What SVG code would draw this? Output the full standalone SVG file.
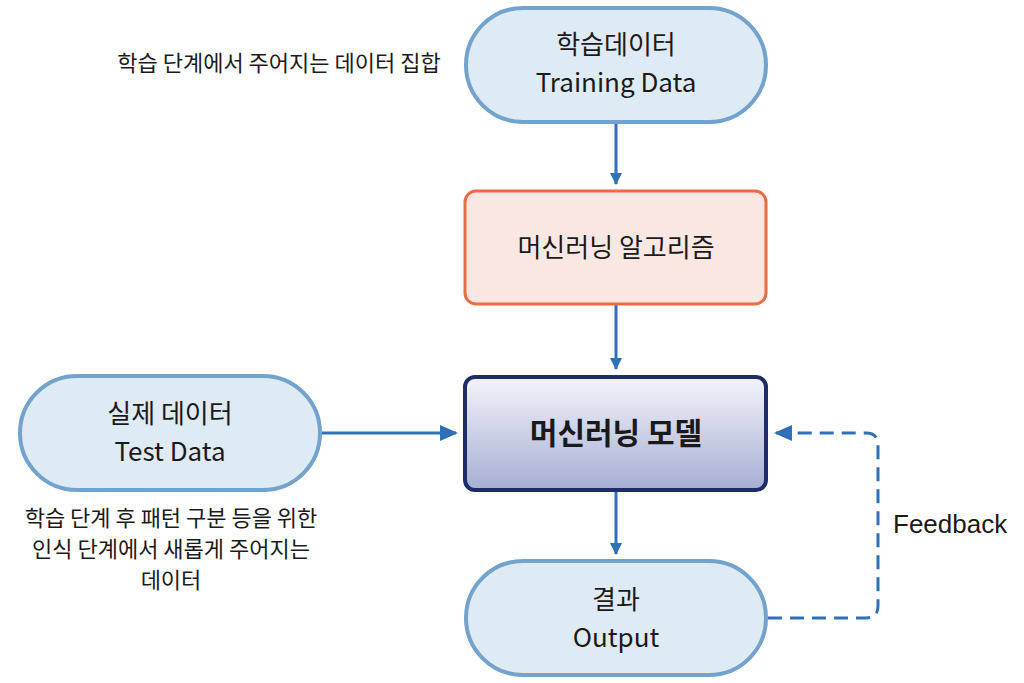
<svg xmlns="http://www.w3.org/2000/svg" width="1024" height="683" viewBox="0 0 1024 683">
<style>
.pill{fill:#deeaf4;stroke:#73a2cd;stroke-width:4}
.t{font-family:"Noto Sans CJK KR","Noto Sans",sans-serif;font-size:26px;fill:#1a1a1a;text-anchor:middle}
.s{font-family:"Noto Sans CJK KR","Noto Sans",sans-serif;font-size:22px;fill:#1a1a1a;text-anchor:middle}
.c{stroke:#2f70b6;stroke-width:3;fill:none}
</style>
<defs>
<marker id="ah" markerWidth="12" markerHeight="12" refX="11" refY="6" orient="auto" markerUnits="userSpaceOnUse" viewBox="0 0 12 12">
<path d="M0,0 L12,6 L0,12 z" fill="#2f70b6"/>
</marker>
<marker id="ahb" markerWidth="18" markerHeight="16" refX="16" refY="8" orient="auto" markerUnits="userSpaceOnUse" viewBox="0 0 18 16">
<path d="M0,0 L18,8 L0,16 z" fill="#2f70b6"/>
</marker>
<linearGradient id="g" x1="0" y1="0" x2="0" y2="1">
<stop offset="0" stop-color="#f3f4fa"/>
<stop offset="1" stop-color="#a6aed4"/>
</linearGradient>
</defs>
<rect width="1024" height="683" fill="#ffffff"/>
<g id="connectors">
<line class="c" x1="616" y1="124" x2="616" y2="184" marker-end="url(#ah)"/>
<line class="c" x1="616" y1="305" x2="616" y2="369" marker-end="url(#ah)"/>
<line class="c" x1="616" y1="492" x2="616" y2="554" marker-end="url(#ah)"/>
<line class="c" x1="322" y1="433" x2="456" y2="433" marker-end="url(#ahb)"/>
<path class="c" d="M768,618 H866 Q878,618 878,606 V445 Q878,433 866,433 H776" stroke-dasharray="14,8" marker-end="url(#ahb)"/>
</g>
<g id="training">
<rect class="pill" x="466" y="8" width="300" height="114" rx="57"/>
<text class="t" x="616" y="54">학습데이터</text>
<text class="t" x="616" y="92">Training Data</text>
</g>
<g id="note-training">
<text class="s" x="279" y="71">학습 단계에서 주어지는 데이터 집합</text>
</g>
<g id="algorithm">
<rect x="465" y="191" width="301" height="113" rx="11" fill="#fbe7e2" stroke="#ec6b45" stroke-width="3"/>
<text class="t" x="616" y="257">머신러닝 알고리즘</text>
</g>
<g id="model">
<rect x="465" y="377" width="301" height="113" rx="10" fill="url(#g)" stroke="#1f2c6c" stroke-width="4"/>
<text class="t" x="616" y="444" style="font-weight:bold;font-size:30px">머신러닝 모델</text>
</g>
<g id="test">
<rect class="pill" x="20" y="376" width="300" height="114" rx="57"/>
<text class="t" x="170" y="423">실제 데이터</text>
<text class="t" x="170" y="461">Test Data</text>
</g>
<g id="note-test">
<text class="s" x="171" y="526">학습 단계 후 패턴 구분 등을 위한</text>
<text class="s" x="171" y="557">인식 단계에서 새롭게 주어지는</text>
<text class="s" x="171" y="588">데이터</text>
</g>
<g id="output">
<rect class="pill" x="466" y="561" width="300" height="114" rx="57"/>
<text class="t" x="616" y="609">결과</text>
<text class="t" x="616" y="647">Output</text>
</g>
<g id="feedback-label">
<text x="893" y="533" style="font-family:'Liberation Sans','Noto Sans',sans-serif;font-size:26px;fill:#1a1a1a">Feedback</text>
</g>
</svg>
